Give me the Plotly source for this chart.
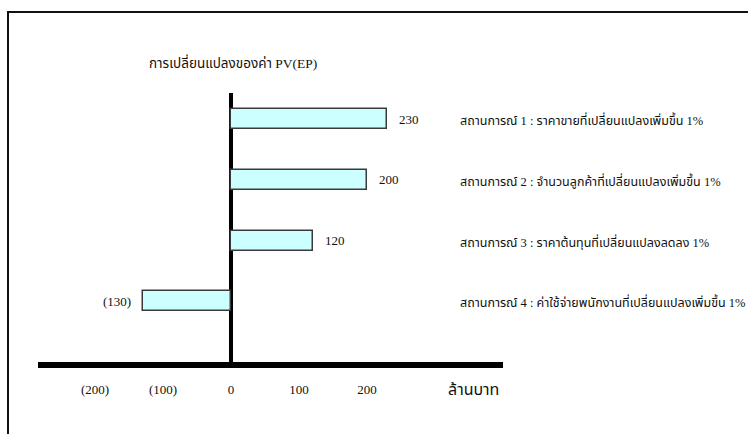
import plotly.graph_objects as go

W, H = 748, 434

# Sensitivity of PV(EP) to a 1% change in each driver (million baht)
scenarios = [
    "สถานการณ์ 1 : ราคาขายที่เปลี่ยนแปลงเพิ่มขึ้น 1%",
    "สถานการณ์ 2 : จำนวนลูกค้าที่เปลี่ยนแปลงเพิ่มขึ้น 1%",
    "สถานการณ์ 3 : ราคาต้นทุนที่เปลี่ยนแปลงลดลง 1%",
    "สถานการณ์ 4 : ค่าใช้จ่ายพนักงานที่เปลี่ยนแปลงเพิ่มขึ้น 1%",
]
pv_change = [230, 200, 120, -130]
tick_vals = [-200, -100, 0, 100, 200]
tick_text = ["(200)", "(100)", "0", "100", "200"]

title_text = "การเปลี่ยนแปลงของค่า PV(EP)"
unit_text = "ล้านบาท"

SERIF = "Liberation Serif, Times New Roman, serif"
THAI = "Liberation Serif, Noto Sans Thai, serif"


def fmt(v):
    return f"({abs(v)})" if v < 0 else f"{v}"


def px(x):
    return x / W


def py(y):
    return 1 - y / H


cats = list(range(len(scenarios)))

fig = go.Figure(
    go.Bar(
        x=pv_change,
        y=cats,
        orientation="h",
        width=0.33,
        marker=dict(color="#ccffff", line=dict(color="#3a3a3a", width=1.5)),
        hoverinfo="x",
    )
)

annotations = []
for i, (v, label) in enumerate(zip(pv_change, scenarios)):
    annotations.append(dict(
        x=v, y=i, xref="x", yref="y", text=fmt(v), showarrow=False,
        xanchor="left" if v >= 0 else "right", xshift=10 if v >= 0 else -10,
        font=dict(family=SERIF, size=13, color="#111"),
    ))
    annotations.append(dict(
        x=px(458), y=i, xref="paper", yref="y", text=label, showarrow=False,
        xanchor="left", yshift=-1,
        font=dict(family=THAI, size=12.5, color="#111"),
    ))

annotations.append(dict(
    x=px(147), y=py(63), xref="paper", yref="paper", text=title_text,
    showarrow=False, xanchor="left", yanchor="middle",
    font=dict(family=THAI, size=13.5, color="#111"),
))
annotations.append(dict(
    x=px(446), y=py(389), xref="paper", yref="paper", text=unit_text,
    showarrow=False, xanchor="left", yanchor="middle",
    font=dict(family=THAI, size=16, color="#111"),
))

# outer frame lines (top and left edges)
shapes = [
    dict(type="line", xref="paper", yref="paper", x0=px(7), x1=1, y0=py(12), y1=py(12),
         line=dict(color="#111", width=2)),
    dict(type="line", xref="paper", yref="paper", x0=px(8), x1=px(8), y0=py(12), y1=0,
         line=dict(color="#111", width=2)),
]

scale = 0.68  # pixels per million baht
x_left, x_right, x_zero = 38, 503, 231

fig.update_layout(
    width=W, height=H,
    margin=dict(l=0, r=0, t=0, b=0),
    paper_bgcolor="white", plot_bgcolor="white",
    showlegend=False,
    bargap=0,
    xaxis=dict(
        domain=[px(x_left), px(x_right)],
        range=[(x_left - x_zero) / scale, (x_right - x_zero) / scale],
        tickvals=tick_vals, ticktext=tick_text,
        tickfont=dict(family=SERIF, size=13, color="#111"),
        ticks="", ticklabelstandoff=10,
        showgrid=False,
        zeroline=True, zerolinecolor="black", zerolinewidth=4,
        showline=True, linecolor="black", linewidth=6,
        fixedrange=True,
    ),
    yaxis=dict(
        domain=[py(362), py(93)],
        range=[4.0, -0.43],
        showticklabels=False, ticks="", showgrid=False, zeroline=False,
        showline=False, fixedrange=True,
    ),
    annotations=annotations,
    shapes=shapes,
)

fig.write_html("out.html")
